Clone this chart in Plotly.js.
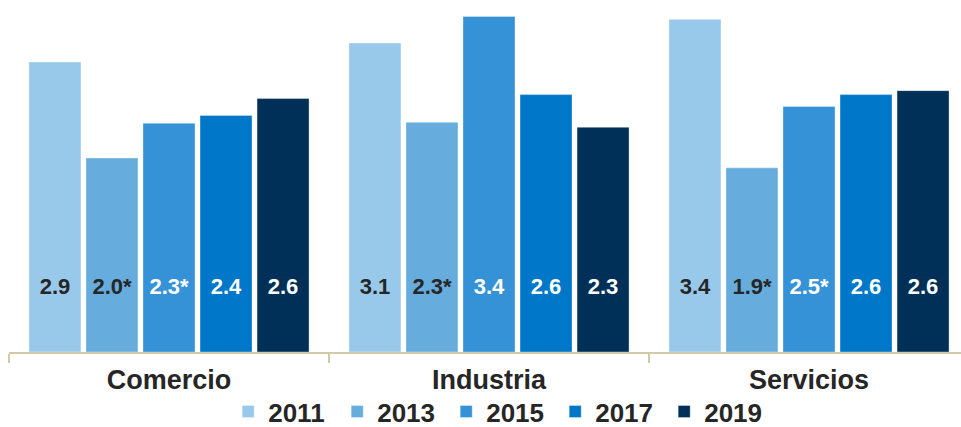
<!DOCTYPE html>
<html>
<head>
<meta charset="utf-8">
<script src="https://cdn.plot.ly/plotly-3.0.1.min.js"></script>
<style>
html,body{margin:0;padding:0;background:#fff;}
#chart{width:961px;height:427px;}
</style>
</head>
<body>
<div id="chart"></div>
<script>
// ---- data ----
const categories = ["Comercio", "Industria", "Servicios"];
const years = ["2011", "2013", "2015", "2017", "2019"];
const values2011 = [2.93, 3.12, 3.36];
const values2013 = [1.96, 2.32, 1.86];
const values2015 = [2.31, 3.39, 2.48];
const values2017 = [2.39, 2.60, 2.60];
const values2019 = [2.56, 2.27, 2.64];
const labels2011 = ["2.9", "3.1", "3.4"];
const labels2013 = ["2.0*", "2.3*", "1.9*"];
const labels2015 = ["2.3*", "3.4", "2.5*"];
const labels2017 = ["2.4", "2.6", "2.6"];
const labels2019 = ["2.6", "2.3", "2.6"];

// ---- styles ----
const seriesValues = [values2011, values2013, values2015, values2017, values2019];
const seriesLabels = [labels2011, labels2013, labels2015, labels2017, labels2019];
const colors = ["#98C9EA", "#66ACDC", "#3592D6", "#0077C8", "#003057"];
const labelColors = ["#262626", "#262626", "#ffffff", "#ffffff", "#ffffff"];
const LABEL_LEVEL = 0.64;
const GAP = 0.109;

const traces = [];
years.forEach((yr, i) => {
  traces.push({
    type: "bar",
    name: yr,
    x: categories,
    y: seriesValues[i],
    marker: {color: colors[i], line: {color: "rgba(255,255,255,0.35)", width: 1}},
    hoverinfo: "skip"
  });
});
years.forEach((yr, i) => {
  traces.push({
    type: "scatter",
    mode: "text",
    x: categories,
    y: categories.map(() => LABEL_LEVEL),
    text: seriesLabels[i],
    textposition: "middle center",
    textfont: {family: "Liberation Sans, Arial, sans-serif", size: 22, weight: "bold", color: labelColors[i]},
    showlegend: false,
    hoverinfo: "skip",
    cliponaxis: false
  });
});

const layout = {
  width: 961,
  height: 427,
  margin: {l: 9, r: 0, t: 0, b: 75},
  paper_bgcolor: "#ffffff",
  plot_bgcolor: "#ffffff",
  barmode: "group",
  bargap: GAP,
  bargroupgap: 0.088,
  scattermode: "group",
  scattergap: GAP,
  showlegend: true,
  xaxis: {
    type: "category",
    range: [-0.5, 2.475],
    showline: true,
    linecolor: "#D2C9A6",
    linewidth: 1.5,
    ticks: "outside",
    tickson: "boundaries",
    ticklen: 9,
    tickwidth: 1.5,
    tickcolor: "#D2C9A6",
    ticklabelstandoff: 3,
    showgrid: false,
    zeroline: false,
    automargin: false,
    tickfont: {family: "Liberation Sans, Arial, sans-serif", size: 27, weight: "bold", color: "#262626"},
    fixedrange: true
  },
  yaxis: {
    range: [0, 352 / 99],
    visible: false,
    showgrid: false,
    zeroline: false,
    fixedrange: true
  },
  legend: {
    orientation: "h",
    xref: "container",
    yref: "container",
    x: 0.521,
    xanchor: "center",
    y: 0.036,
    yanchor: "middle",
    entrywidth: 64,
    font: {family: "Liberation Sans, Arial, sans-serif", size: 26, weight: "bold", color: "#262626"},
    itemwidth: 30,
    bgcolor: "rgba(0,0,0,0)"
  }
};

Plotly.newPlot("chart", traces, layout, {displayModeBar: false, staticPlot: true});
</script>
</body>
</html>
